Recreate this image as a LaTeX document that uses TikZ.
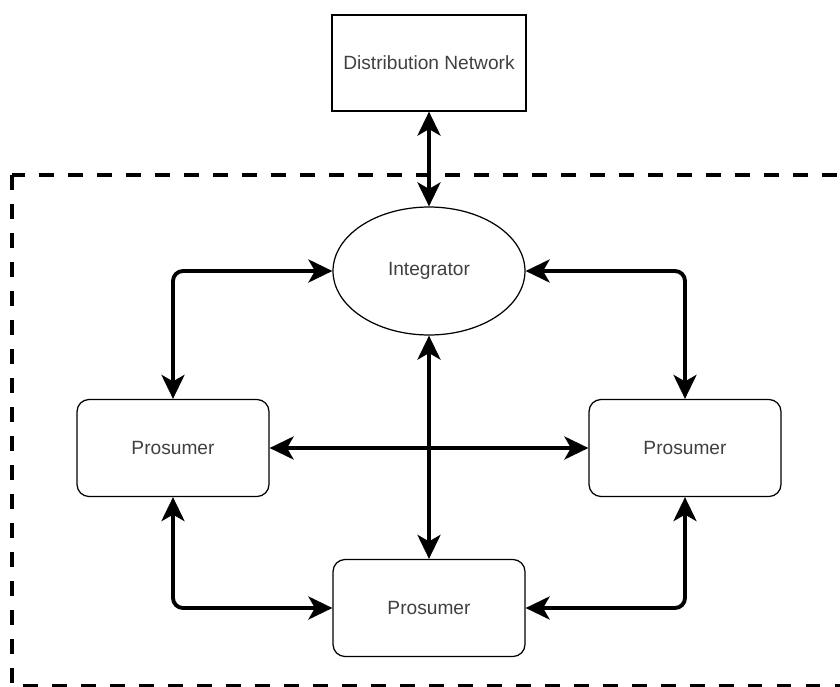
\documentclass[tikz,border=0pt]{standalone}
\usepackage{fontspec}
\setmainfont{Liberation Sans}
\usetikzlibrary{
    arrows.meta,
    shapes.geometric
}

\begin{document}
\begin{tikzpicture}[x=0.02cm, y=-0.02cm,
    txt/.style={text=black!75, font=\fontsize{10.9}{13}\selectfont, inner sep=0pt, line width=0.7pt},
    netbox/.style={txt, draw, minimum width=3.88cm, minimum height=1.92cm},
    hub/.style={txt, draw, ellipse, minimum width=3.84cm, minimum height=2.56cm},
    prosbox/.style={txt, draw, rounded corners=0.24cm, minimum width=3.84cm, minimum height=1.94cm},
    flow/.style={line width=2.2pt, rounded corners=0.2cm,
        {Stealth[length=0.48cm, width=0.46cm, inset=0.13cm]}-{Stealth[length=0.48cm, width=0.46cm, inset=0.13cm]}}
]

% Frame
\useasboundingbox (0,0) rectangle (840,687);
\clip (0,0) rectangle (840,687);

% Community boundary
\draw[line width=2.2pt, dash pattern=on 8.5pt off 8pt] (12,175) rectangle (870,686);

% Nodes
\node[netbox] (dist) at (429,63) {Distribution Network};
\node[hub] (integ) at (429,271) {Integrator};
\node[prosbox] (prosL) at (173,448) {Prosumer};
\node[prosbox] (prosR) at (685,448) {Prosumer};
\node[prosbox] (prosB) at (429,608) {Prosumer};

% Links
\draw[flow] (dist) -- (integ);
\draw[flow] (integ.west) -| (prosL.north);
\draw[flow] (integ.east) -| (prosR.north);
\draw[flow] (prosL) -- (prosR);
\draw[flow] (integ) -- (prosB);
\draw[flow] (prosL.south) |- (prosB.west);
\draw[flow] (prosR.south) |- (prosB.east);

\end{tikzpicture}
\end{document}
